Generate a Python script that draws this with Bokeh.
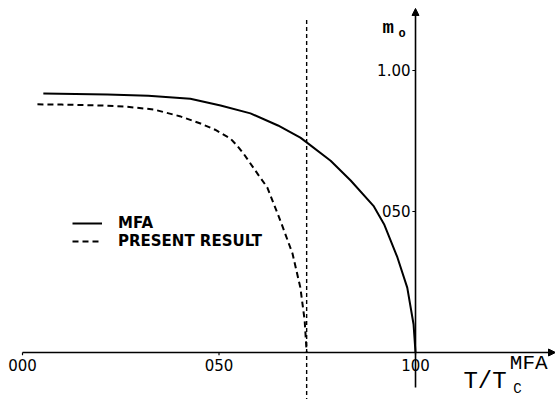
from bokeh.plotting import figure
from bokeh.models import Arrow, NormalHead, Legend, LegendItem
from bokeh.core.properties import value
from bokeh.embed import file_html
from bokeh.resources import INLINE

# ---- data ----
mfa_t = [0.053, 0.216, 0.320, 0.427, 0.504, 0.580, 0.650, 0.707, 0.723, 0.784, 0.835,
         0.893, 0.920, 0.954, 0.979, 0.995, 1.000]
mfa_m = [0.918, 0.915, 0.910, 0.900, 0.876, 0.848, 0.805, 0.762, 0.745, 0.680, 0.610,
         0.520, 0.455, 0.337, 0.230, 0.100, 0.000]

present_t = [0.038, 0.100, 0.198, 0.260, 0.333, 0.400, 0.453, 0.490, 0.529, 0.545, 0.562,
             0.600, 0.623, 0.656, 0.687, 0.707, 0.718, 0.723]
present_m = [0.880, 0.879, 0.876, 0.872, 0.862, 0.838, 0.812, 0.790, 0.759, 0.735, 0.706,
             0.630, 0.585, 0.468, 0.351, 0.230, 0.113, 0.000]

tc_present = 0.723

x_ticks = [0.0, 0.5, 1.0]
x_tick_labels = ["000", "050", "100"]
y_ticks = [0.5, 1.0]
y_tick_labels = ["050", "1.00"]

# ---- figure ----
X0, X1 = -0.056, 1.3562
Y0, Y1 = -0.1667, 1.2482

p = figure(width=555, height=399, x_range=(X0, X1), y_range=(Y0, Y1),
           output_backend="svg", toolbar_location=None,
           x_axis_location=None, y_axis_location=None,
           min_border=0, outline_line_color=None)
p.xgrid.grid_line_color = None
p.ygrid.grid_line_color = None
p.background_fill_color = "white"

# axes
p.add_layout(Arrow(x_start=0.0, y_start=0.0, x_end=X1, y_end=0.0,
                   line_width=1.6, line_color="black",
                   end=NormalHead(size=7, fill_color="black", line_color="black")))
p.add_layout(Arrow(x_start=1.0, y_start=-0.124, x_end=1.0, y_end=1.22,
                   line_width=1.6, line_color="black",
                   end=NormalHead(size=7, fill_color="black", line_color="black")))

# ticks
p.segment(x0=[1.0 - 0.008] * len(y_ticks), y0=y_ticks, x1=[1.0] * len(y_ticks), y1=y_ticks,
          line_color="black", line_width=1.2)
p.segment(x0=x_ticks, y0=[0.0] * len(x_ticks), x1=x_ticks, y1=[-0.01] * len(x_ticks),
          line_color="black", line_width=1.2)

# vertical dashed line at Tc (present)
p.segment(x0=[tc_present], y0=[-0.2], x1=[tc_present], y1=[1.184],
          line_color="black", line_width=1.4, line_dash="4 3")

# curves
r1 = p.line(mfa_t, mfa_m, line_color="black", line_width=2)
r2 = p.line(present_t, present_m, line_color="black", line_width=2, line_dash="6 4")

# tick labels
p.text(x=x_ticks, y=[0.0] * len(x_ticks), text=x_tick_labels, y_offset=13,
       text_align="center", text_baseline="middle",
       text_font=value("DejaVu Sans"), text_font_size="15px", text_color="black")
p.text(x=[1.0] * len(y_ticks), y=y_ticks, text=y_tick_labels, x_offset=-5,
       text_align="right", text_baseline="middle",
       text_font=value("DejaVu Sans"), text_font_size="15px", text_color="black")

# axis titles
p.text(x=[0.916], y=[1.149], text=["m"], text_align="left", text_baseline="middle",
       text_font=value("Liberation Mono"), text_font_size="19px", text_font_style="bold",
       text_color="black")
p.text(x=[0.957], y=[1.131], text=["o"], text_align="left", text_baseline="middle",
       text_font=value("Liberation Mono"), text_font_size="12px", text_font_style="bold",
       text_color="black")
p.text(x=[1.122], y=[-0.103], text=["T/T"], text_align="left", text_baseline="middle",
       text_font=value("Liberation Mono"), text_font_size="24px", text_color="black")
p.text(x=[1.240], y=[-0.039], text=["MFA"], text_align="left", text_baseline="middle",
       text_font=value("Liberation Mono"), text_font_size="21px", text_color="black")
p.text(x=[1.249], y=[-0.128], text=["C"], text_align="left", text_baseline="middle",
       text_font=value("Liberation Mono"), text_font_size="14px", text_color="black")

# legend
legend = Legend(items=[LegendItem(label="MFA", renderers=[r1]),
                       LegendItem(label="PRESENT RESULT", renderers=[r2])],
                location=(72, 149), glyph_width=30, glyph_height=16, label_height=16,
                spacing=0, padding=0, margin=0, label_standoff=16,
                border_line_color=None, background_fill_alpha=0,
                label_text_font="DejaVu Sans", label_text_font_size="15px",
                label_text_font_style="bold", label_text_color="black")
p.add_layout(legend)

open("out.html", "w").write(file_html(p, INLINE))
